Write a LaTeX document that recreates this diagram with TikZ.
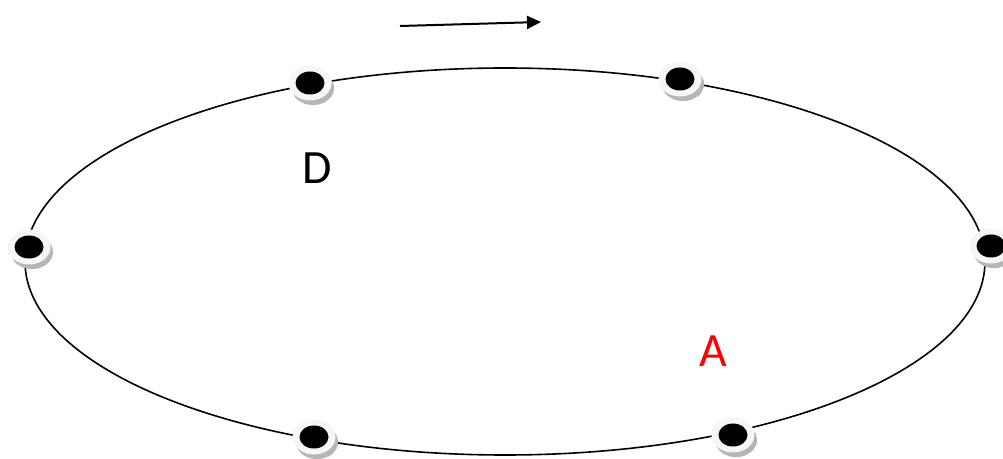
\documentclass[tikz,border=0pt]{standalone}
\usepackage{fontspec}
\setmainfont{Carlito}
\usetikzlibrary{arrows.meta,patterns}
\tikzset{
  orbit/.style={draw=black, line width=1.6bp},
  flow/.style={draw=black, line width=2bp, -{Triangle[length=14bp,width=13bp]}},
  lbl/.style={font=\fontsize{48}{48}\selectfont, inner sep=0pt},
  button/.pic={
    \fill[gray!45] (3bp,-5bp) ellipse [x radius=21bp, y radius=17bp];
    \fill[pattern=crosshatch, pattern color=gray!70] (3bp,-5bp) ellipse [x radius=21bp, y radius=17bp];
    \fill[white!93!gray] (0,0) ellipse [x radius=21.5bp, y radius=17.5bp];
    \fill[black] (0,0) ellipse [x radius=14.5bp, y radius=11.5bp];
    \coordinate (-c) at (0,0);
  }
}
\begin{document}
\begin{tikzpicture}[x=1bp,y=-1bp]
\useasboundingbox (0,0) rectangle (1003,459);
\draw[orbit] (505,261.5) ellipse [x radius=480, y radius=193.5];
\pic (p1) at (310,83) {button};
\pic (p2) at (680,79) {button};
\pic (p3) at (29,247) {button};
\pic (p4) at (991,246) {button};
\pic (p5) at (314,437) {button};
\pic (p6) at (733,435) {button};
\coordinate (s) at (400,26);
\coordinate (e) at (541,22);
\draw[flow] (s) -- (e);
\node[lbl] (D) at (317,168) {D};
\node[lbl, text=red] (A) at (713,351) {A};
\end{tikzpicture}
\end{document}
